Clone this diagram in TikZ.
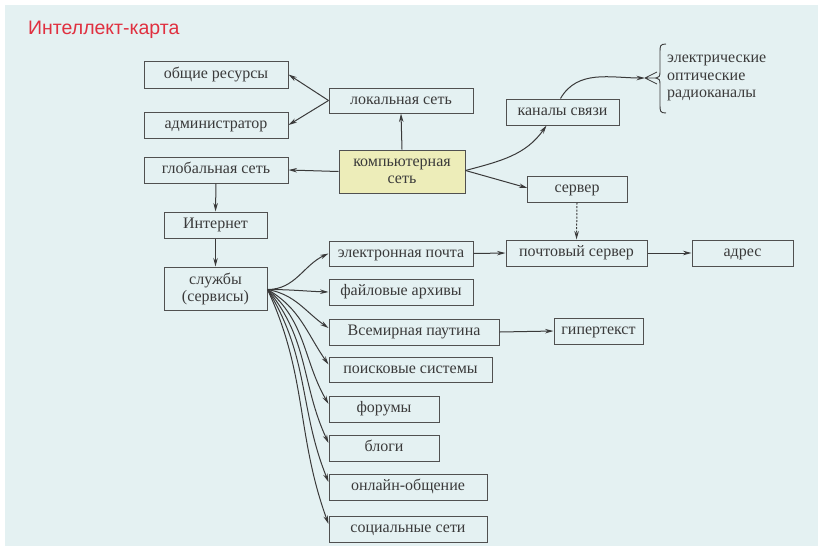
\documentclass[tikz,border=0pt]{standalone}
\usepackage{fontspec}
\setmainfont{Liberation Serif}
\newfontfamily\titlefont{Liberation Sans}
\usetikzlibrary{arrows.meta}
\definecolor{bgc}{HTML}{E4F1F2}
\definecolor{boxline}{HTML}{505050}
\definecolor{txt}{HTML}{3A3A3A}
\definecolor{compfill}{HTML}{EDEDB9}
\definecolor{titlered}{HTML}{E03040}
\begin{document}
\begin{tikzpicture}[x=1pt,y=-1pt,
  box/.style={draw=boxline,line width=1pt,fill=bgc,inner sep=0pt,text=txt,font=\fontsize{16}{17}\selectfont,align=center,text height=8.5pt,text depth=1pt},
  box2/.style={draw=boxline,line width=1pt,fill=bgc,inner sep=0pt,text=txt,font=\fontsize{16}{17}\selectfont,align=center},
  conn/.style={draw=txt,line width=1pt,-{Stealth[length=8.5pt,width=4.5pt]}},
  plain/.style={draw=txt,line width=1pt}]
\useasboundingbox (0,0) rectangle (818,547);
\fill[white] (0,0) rectangle (818,547);
\fill[bgc] (5,5) rectangle (818,546);
\node[font=\titlefont\fontsize{19.5}{21}\selectfont,text=titlered,anchor=west,inner sep=0pt] (title) at (28,30) {Интеллект-карта};

\node[box,minimum width=144pt,minimum height=27pt] (res) at (216,74.5) {общие ресурсы};
\node[box,minimum width=144pt,minimum height=26pt] (adm) at (216,125) {администратор};
\node[box,minimum width=144pt,minimum height=25pt] (loc) at (401,100.5) {локальная сеть};
\node[box,minimum width=144pt,minimum height=26pt] (glob) at (216,170) {глобальная сеть};
\node[box2,fill=compfill,minimum width=126pt,minimum height=43pt] (comp) at (402,171.5) {компьютерная\\сеть};
\node[box,minimum width=113pt,minimum height=26pt] (kan) at (562.5,112) {каналы связи};
\node[box,minimum width=100pt,minimum height=26pt] (serv) at (577,189) {сервер};
\node[box,minimum width=103pt,minimum height=26pt] (inet) at (215.5,225) {Интернет};
\node[box2,minimum width=103pt,minimum height=43pt] (sluz) at (215.5,288.5) {службы\\(сервисы)};
\node[box,minimum width=144pt,minimum height=25pt] (email) at (401,253.5) {электронная почта};
\node[box,minimum width=144pt,minimum height=26pt] (files) at (401,292) {файловые архивы};
\node[box,minimum width=170pt,minimum height=26pt] (www) at (414,332) {Всемирная паутина};
\node[box,minimum width=141pt,minimum height=26pt] (psrv) at (576.5,253) {почтовый сервер};
\node[box,minimum width=101pt,minimum height=26pt] (addr) at (742.5,253) {адрес};
\node[box,minimum width=89pt,minimum height=26pt] (hyp) at (598.5,331) {гипертекст};
\node[box,minimum width=163pt,minimum height=25pt] (search) at (410.5,369.5) {поисковые системы};
\node[box,minimum width=110pt,minimum height=26pt] (forum) at (384,409) {форумы};
\node[box,minimum width=110pt,minimum height=26pt] (blog) at (384,448) {блоги};
\node[box,minimum width=158pt,minimum height=26pt] (online) at (408,487) {онлайн-общение};
\node[box,minimum width=158pt,minimum height=26pt] (social) at (408,529) {социальные сети};

% channels list with brace
\node[anchor=north west,inner sep=0pt,text=txt,font=\fontsize{16}{17.5}\selectfont,align=left] (chl) at (667,55) {электрические\\оптические\\радиоканалы};
\draw[plain,line width=0.9pt] (666,44) .. controls (660,44) and (660,46) .. (660,52) -- (660,72) .. controls (660,76) and (659,78) .. (656,78)
  .. controls (659,78) and (660,80) .. (660,84) -- (660,105) .. controls (660,111) and (660,113) .. (666,113);
\coordinate (fork) at (645,78);
\coordinate (br1) at (657,72);
\coordinate (br2) at (656,78);
\coordinate (br3) at (657,84);
\draw[plain,line width=0.8pt] (fork) -- (br1) (fork) -- (br2) (fork) -- (br3);

% connectors
\coordinate (locw) at (loc.west);
\draw[conn] (locw) -- (res.east);
\draw[conn] (locw) -- (adm.east);
\draw[conn] (comp.north) -- (loc.south);
\draw[conn] (comp.west) -- (glob.east);
\draw[conn] (glob.south) -- (inet.north);
\draw[conn] (inet.south) -- (sluz.north);
\coordinate (compe) at ([yshift=1pt]comp.east);
\draw[conn] (compe) to[out=15,in=235] ([xshift=-16pt]kan.south);
\draw[conn] (compe) -- ([xshift=1pt,yshift=1pt]serv.west);
\draw[conn] ([xshift=-2pt]kan.north) to[out=60,in=180] (fork);
\draw[conn,dash pattern=on 2pt off 1.5pt] (serv.south) -- (psrv.north);
\draw[conn] (email.east) -- (psrv.west);
\draw[conn] (psrv.east) -- (addr.west);
\draw[conn] (www.east) -- (hyp.west);

\coordinate (sl) at ([yshift=-1pt]sluz.east);
\draw[conn] (sl) to[out=0,in=205] (email.west);
\draw[conn] (sl) to[out=0,in=178] (files.west);
\draw[conn] (sl) to[out=-10,in=145] ([yshift=4pt]www.west);
\draw[conn] (sl) to[out=-30,in=125] ([yshift=5pt]search.west);
\draw[conn] (sl) to[out=-40,in=120] ([yshift=5pt]forum.west);
\draw[conn] (sl) to[out=-50,in=115] ([yshift=5pt]blog.west);
\draw[conn] (sl) to[out=-58,in=112] ([yshift=5pt]online.west);
\draw[conn] (sl) to[out=-65,in=110] ([yshift=5pt]social.west);
\end{tikzpicture}
\end{document}
